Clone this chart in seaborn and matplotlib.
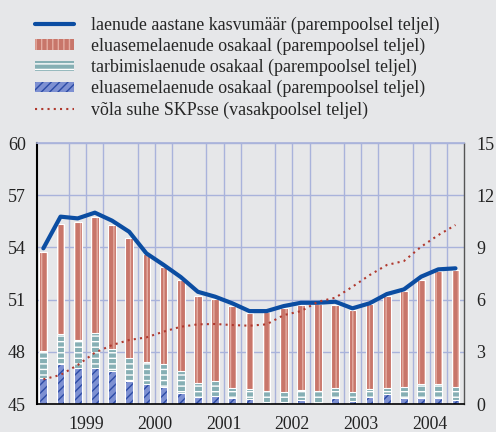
import numpy as np
import pandas as pd
import matplotlib.pyplot as plt
import seaborn as sns

sns.set_theme(style='white')
plt.rcParams['font.family'] = ['Liberation Serif', 'DejaVu Serif']
plt.rcParams['hatch.linewidth'] = 1.0

# quarters 1998Q4 .. 2004Q4
quarters = ['1998Q4'] + [f'{y}Q{q}' for y in range(1999, 2005) for q in range(1, 5)]
years = ['1999', '2000', '2001', '2002', '2003', '2004']

# stacked bar components (right axis)
house_hatch = [1.47, 2.28, 2.05, 2.09, 1.90, 1.34, 1.15, 0.99, 0.61, 0.42, 0.48, 0.33, 0.27,
               0.10, 0.13, 0.23, 0.05, 0.36, 0.19, 0.42, 0.56, 0.33, 0.36, 0.33, 0.23]
consumer = [1.58, 1.74, 1.63, 2.01, 1.24, 1.32, 1.25, 1.29, 1.29, 0.77, 0.86, 0.57, 0.57,
            0.65, 0.56, 0.57, 0.70, 0.54, 0.52, 0.42, 0.38, 0.63, 0.79, 0.82, 0.76]
housing = [5.70, 6.32, 6.78, 6.63, 7.17, 6.90, 6.20, 5.57, 5.23, 5.04, 4.69, 4.73, 4.41,
           4.56, 4.81, 4.89, 5.00, 4.79, 4.69, 4.91, 5.26, 5.53, 5.98, 6.49, 6.71]
# annual loan growth (right axis)
growth = [8.95, 10.77, 10.67, 11.0, 10.54, 9.9, 8.66, 8.0, 7.3, 6.45, 6.17, 5.79, 5.34,
          5.34, 5.63, 5.82, 5.82, 5.88, 5.5, 5.79, 6.32, 6.59, 7.32, 7.74, 7.8]
# debt to GDP (left axis)
debt_gdp = [46.42, 46.67, 47.24, 47.95, 48.39, 48.68, 48.83, 49.16, 49.44, 49.58, 49.6, 49.54, 49.5,
            49.58, 50.11, 50.34, 50.88, 51.11, 51.74, 52.41, 52.99, 53.22, 54.04, 54.71, 55.29]

labels = ['laenude aastane kasvumäär (parempoolsel teljel)',
          'eluasemelaenude osakaal (parempoolsel teljel)',
          'tarbimislaenude osakaal (parempoolsel teljel)',
          'eluasemelaenude osakaal (parempoolsel teljel)',
          'võla suhe SKPsse (vasakpoolsel teljel)']

df = pd.DataFrame({'q': quarters, 'h1': house_hatch, 'c': consumer, 'h2': housing,
                   'g': growth, 'd': debt_gdp})
df['top_blue'] = df['h1']
df['top_teal'] = df['h1'] + df['c']
df['top_red'] = df['top_teal'] + df['h2']
xpos = np.arange(len(df))

bg = '#E6E7E9'
grid_c = '#A9B3DB'
fig = plt.figure(figsize=(4.96, 4.32), dpi=100, facecolor=bg)
ax2 = fig.add_axes([0.0746, 0.0648, 0.861, 0.604])
ax = ax2.twinx()
ax2.set_zorder(1)
ax.set_zorder(2)
ax2.patch.set_visible(True)
ax2.set_facecolor(bg)
ax.patch.set_visible(False)

# bars
layers = [('top_red', '#C8766A', '#E5ADA2', '|||'),
          ('top_teal', '#86AFB4', 'white', '---'),
          ('top_blue', '#7D90D2', '#2C4BA6', '////')]
handles = {}
for col, fc, hc, hatch in layers:
    n0 = len(ax2.patches)
    sns.barplot(data=df, x='q', y=col, ax=ax2, color=fc, saturation=1, width=0.45,
                linewidth=0, errorbar=None)
    new = ax2.patches[n0:]
    for p in new:
        p.set_hatch(hatch)
        p.set_edgecolor(hc)
        p.set_linewidth(0)
    handles[col] = new[0]
    # white outlines
    sns.barplot(data=df, x='q', y=col, ax=ax2, fill=False, width=0.45, edgecolor='white',
                linewidth=0.8, errorbar=None)

sns.lineplot(x=xpos, y=df['g'], ax=ax2, color='#0B4DA2', linewidth=3)
blue_line = ax2.lines[-1]
sns.lineplot(x=xpos, y=df['d'], ax=ax, color='#B0392E', linewidth=1.5, linestyle=(0, (1, 2)))
dot_line = ax.lines[-1]

ax2.set_ylim(0, 15)
ax.set_ylim(45, 60)
ax.set_xlim(-0.37, 24.5)
ax2.set_yticks(np.arange(0, 16, 3))
ax.set_yticks(np.arange(45, 61, 3))
ax.yaxis.tick_left()
ax2.yaxis.tick_right()
ax2.set_ylabel('')
ax.set_ylabel('')
ax2.set_xlabel('')
ax.set_xlabel('')

# x ticks: short at quarter boundaries, long at year boundaries
ax.set_xticks(np.arange(0.5, 24, 1), minor=True)
ax.set_xticks(np.arange(0.5, 24, 4))
ax.set_xticklabels([])
ax.tick_params(axis='x', which='major', length=10, width=1, color='black', direction='out', bottom=True)
ax.tick_params(axis='x', which='minor', length=5, width=1, color='black', direction='out', bottom=True)
ax.tick_params(axis='y', length=0, pad=8, labelsize=13, labelcolor='#222222', left=True, right=False,
               labelleft=True, labelright=False)
ax2.tick_params(axis='y', length=0, pad=9, labelsize=13, labelcolor='#222222')
for i, yr in enumerate(years):
    ax.text(2.5 + 4 * i, -0.045, yr, transform=ax.get_xaxis_transform(), ha='center', va='top',
            fontsize=12.8, color='#222222')

# grid on the back axes
ax2.xaxis.set_visible(True)
ax2.tick_params(axis='x', which='both', length=0, labelbottom=False)
ax2.grid(True, which='minor', axis='x', color=grid_c, linewidth=1)
ax2.grid(True, which='major', axis='y', color=grid_c, linewidth=1)
ax2.set_axisbelow(True)

for a in (ax, ax2):
    for s in a.spines.values():
        s.set_visible(False)
ax.spines['left'].set_visible(True)
ax.spines['left'].set_color('black')
ax.spines['left'].set_linewidth(1.5)
ax.spines['bottom'].set_visible(True)
ax.spines['bottom'].set_color('black')
ax.spines['bottom'].set_linewidth(1.2)
ax.spines['right'].set_visible(True)
ax.spines['right'].set_color('#555555')
ax.spines['right'].set_linewidth(1)
ax.spines['top'].set_visible(True)
ax.spines['top'].set_color(grid_c)

fig.legend([blue_line, handles['top_red'], handles['top_teal'], handles['top_blue'], dot_line],
           labels, loc='upper left', bbox_to_anchor=(0.07, 0.962), frameon=False, fontsize=12.9,
           handlelength=2.2, handleheight=0.5, handletextpad=0.95, labelspacing=0.22,
           borderaxespad=0, borderpad=0)

fig.savefig('out.png', dpi=100, facecolor=bg)
